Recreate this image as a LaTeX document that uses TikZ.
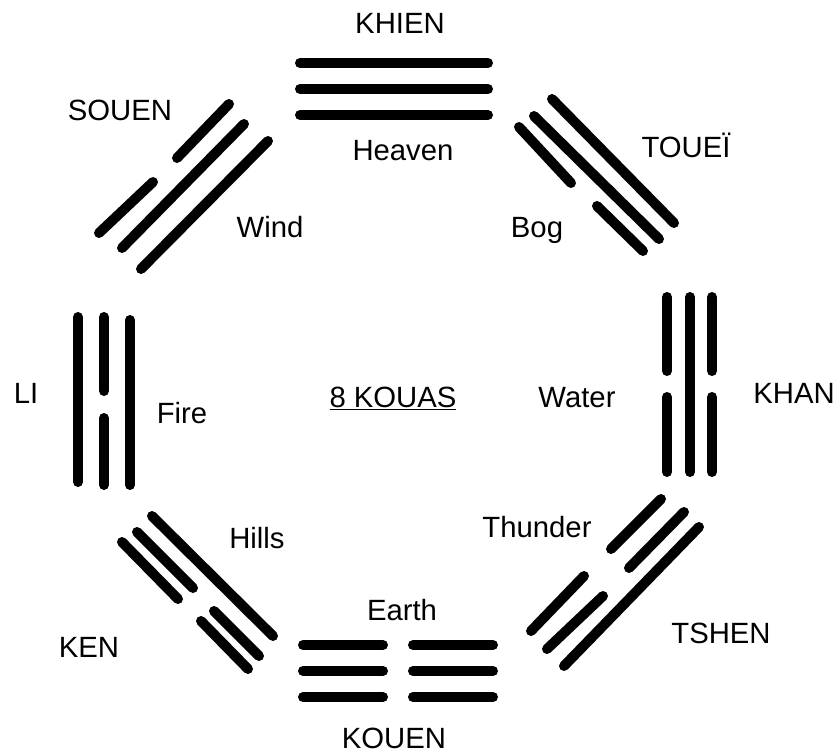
\documentclass[tikz,border=0pt]{standalone}
\usepackage{fontspec}
\setmainfont{Liberation Sans}
\usepackage{tikz}

\begin{document}
\begin{tikzpicture}[x=0.03cm,y=-0.03cm,
  bar/.style={line width=0.3cm,line cap=round},
  lbl/.style={anchor=base,inner sep=0pt,font=\fontsize{25}{30}\selectfont}]
\useasboundingbox(0,0)rectangle(838,753);
\draw[bar](300,63)--(488,63);
\draw[bar](300,89)--(488,89);
\draw[bar](300,115)--(488,115);
\draw[bar](303,645)--(383,645) (413,645)--(493,645);
\draw[bar](303,671)--(383,671) (413,671)--(493,671);
\draw[bar](303,697)--(383,697) (413,697)--(493,697);
\draw[bar](78,317)--(78,482);
\draw[bar](104,317)--(104,391) (104,418)--(104,485);
\draw[bar](130,320)--(130,485);
\draw[bar](667,297)--(667,371) (667,397)--(667,472);
\draw[bar](690,297)--(690,472);
\draw[bar](712,297)--(712,371) (712,397)--(712,472);
\draw[bar](99,233)--(153,182) (177,158)--(229,104);
\draw[bar](122,248)--(244,124);
\draw[bar](141,269)--(268,141);
\draw[bar](552,99)--(674,223);
\draw[bar](534,116)--(659,239);
\draw[bar](519,127)--(571,183) (597,206)--(643,251);
\draw[bar](152,516)--(273,636);
\draw[bar](137,532)--(193,588) (214,611)--(259,656);
\draw[bar](122,542)--(178,599) (201,621)--(248,669);
\draw[bar](661,499)--(611,549) (584,576)--(531,631);
\draw[bar](684,512)--(629,568) (603,596)--(547,649);
\draw[bar](699,527)--(564,666);
\node[lbl](khien)at(400,33){KHIEN};
\node[lbl](heaven)at(403,160){Heaven};
\node[lbl](kouen)at(394,748){KOUEN};
\node[lbl](earth)at(402,620){Earth};
\node[lbl](souen)at(120,120){SOUEN};
\node[lbl](wind)at(270,237){Wind};
\node[lbl](touei)at(686,157){TOUEÏ};
\node[lbl](bog)at(537,237){Bog};
\node[lbl](li)at(26,403){LI};
\node[lbl](fire)at(182,423){Fire};
\node[lbl](khan)at(794,403){KHAN};
\node[lbl](water)at(577,407){Water};
\node[lbl](ken)at(89,657){KEN};
\node[lbl](hills)at(257,548){Hills};
\node[lbl](tshen)at(721,643){TSHEN};
\node[lbl](thunder)at(537,537){Thunder};
\node[lbl](kouas)at(393,407){\underline{8 KOUAS}};
\end{tikzpicture}
\end{document}
